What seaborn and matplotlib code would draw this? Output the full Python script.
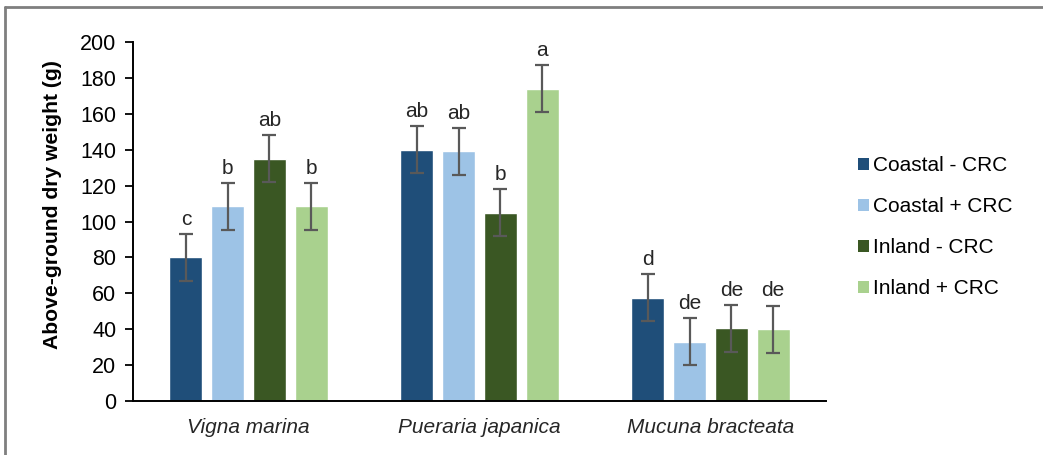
import numpy as np
import pandas as pd
import matplotlib
matplotlib.use("Agg")
import matplotlib.pyplot as plt
import seaborn as sns
from matplotlib.lines import Line2D
from matplotlib.patches import Patch

species = ["Vigna marina", "Pueraria japanica", "Mucuna bracteata"]
treatments = ["Coastal - CRC", "Coastal + CRC", "Inland - CRC", "Inland + CRC"]
coastal_minus = [80, 140, 57.5]
coastal_plus = [108.5, 139, 33]
inland_minus = [135, 105, 40.5]
inland_plus = [108.5, 174, 40]
err_coastal_minus = [13, 13, 13]
err_coastal_plus = [13, 13, 13]
err_inland_minus = [13, 13, 13]
err_inland_plus = [13, 13, 13]
letters_coastal_minus = ["c", "ab", "d"]
letters_coastal_plus = ["b", "ab", "de"]
letters_inland_minus = ["ab", "b", "de"]
letters_inland_plus = ["b", "a", "de"]
colors = ["#1F4E79", "#9DC3E6", "#3A5723", "#A9D18E"]
yticks = [0, 20, 40, 60, 80, 100, 120, 140, 160, 180, 200]

sns.set_theme(style="white")
plt.rcParams["font.family"] = ["Liberation Sans", "DejaVu Sans"]

vals = [coastal_minus, coastal_plus, inland_minus, inland_plus]
errs = [err_coastal_minus, err_coastal_plus, err_inland_minus, err_inland_plus]
lets = [letters_coastal_minus, letters_coastal_plus, letters_inland_minus, letters_inland_plus]

rows = []
for t, v, e, l in zip(treatments, vals, errs, lets):
    for s, vv, ee, ll in zip(species, v, e, l):
        rows.append({"species": s, "treatment": t, "value": vv, "err": ee, "letter": ll})
df = pd.DataFrame(rows)

fig = plt.figure(figsize=(10.43, 4.55), dpi=100)
ax = fig.add_axes([133/1043, 1-401/455, (826-133)/1043, (401-42)/455])

sns.barplot(data=df, x="species", y="value", hue="treatment", order=species,
            hue_order=treatments, palette=colors, errorbar=None, width=0.722,
            gap=0.21, ax=ax, saturation=1, legend=False)

# error bars and letters
for ti, t in enumerate(treatments):
    cont = ax.containers[ti]
    sub = df[df.treatment == t].set_index("species").loc[species]
    for bar, (_, r) in zip(cont.patches, sub.iterrows()):
        xc = bar.get_x() + bar.get_width()/2
        ax.errorbar(xc, r["value"], yerr=r["err"], color="#595959", capsize=5,
                    capthick=1.6, elinewidth=1.6, fmt="none")
        ax.text(xc, r["value"] + r["err"] + 3, r["letter"], ha="center", va="bottom",
                fontsize=15, color="#262626")

ax.set_ylim(0, 200)
ax.set_xlim(-0.5, 2.5)
ax.set_yticks(yticks)
ax.set_yticklabels([str(v) for v in yticks], fontsize=15.5, color="#000000")
ax.set_xticks(range(len(species)))
ax.set_xticklabels(species, fontsize=15, style="italic", color="#262626")
ax.set_xlabel("")
ax.set_ylabel("Above-ground dry weight (g)", fontsize=15.2, fontweight="bold", color="#000000")
ax.yaxis.set_label_coords(-0.1025, 0.546)
ax.tick_params(axis="y", direction="out", length=6, width=1.3, color="black", left=True, pad=6)
ax.tick_params(axis="x", length=0, pad=12)
for sp in ["top", "right"]:
    ax.spines[sp].set_visible(False)
for sp in ["left", "bottom"]:
    ax.spines[sp].set_color("black")
    ax.spines[sp].set_linewidth(1.4)

handles = [Patch(facecolor=c, edgecolor="none") for c in colors]
fig.legend(handles, treatments, loc="upper left", bbox_to_anchor=(850/1043, 1-148/455),
           frameon=False, fontsize=15, handlelength=0.5, handleheight=0.5,
           handletextpad=0.2, labelspacing=1.05, borderaxespad=0, labelcolor="#000000")

# figure border (top and left)
fig.add_artist(Line2D([5/1043, 1], [1-7/455, 1-7/455], transform=fig.transFigure, color="#7f7f7f", lw=2))
fig.add_artist(Line2D([5/1043, 5/1043], [0, 1-7/455], transform=fig.transFigure, color="#7f7f7f", lw=2))

fig.savefig("out.png", dpi=100)
